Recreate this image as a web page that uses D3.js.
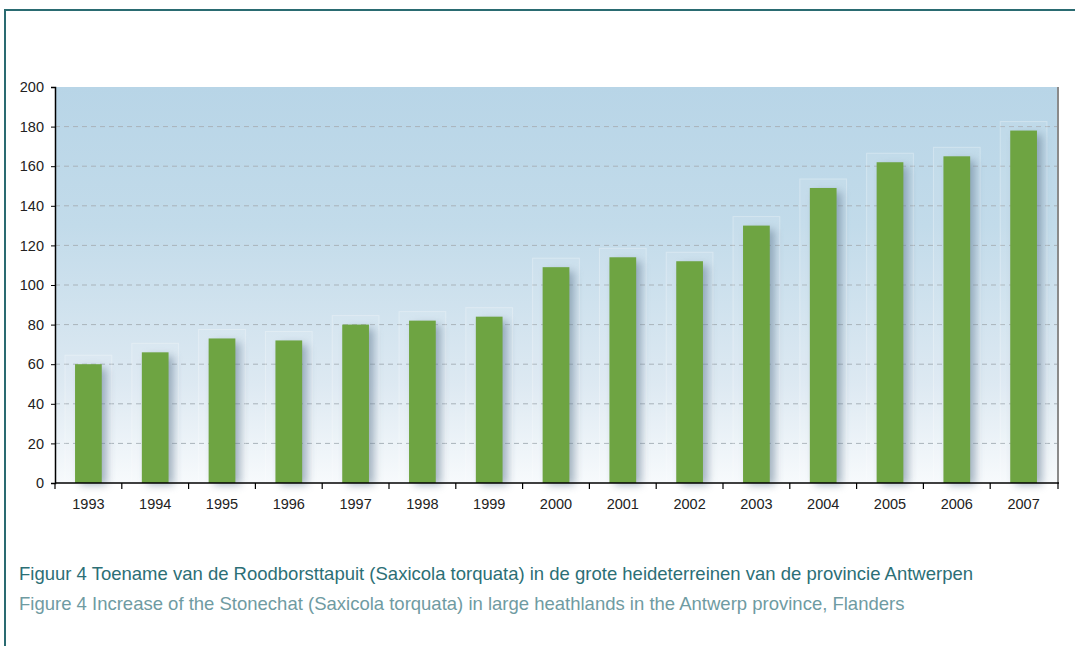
<!DOCTYPE html>
<html>
<head>
<meta charset="utf-8">
<script src="https://cdn.jsdelivr.net/npm/d3@7"></script>
<style>
body{margin:0;background:#fff;font-family:"Liberation Sans",Arial,Helvetica,sans-serif;}
svg{display:block;}
</style>
</head>
<body>
<div id="chart"></div>
<script>
var years = ["1993","1994","1995","1996","1997","1998","1999","2000","2001","2002","2003","2004","2005","2006","2007"];
var counts = [60,66,73,72,80,82,84,109,114,112,130,149,162,165,178];
var yTicks = [0,20,40,60,80,100,120,140,160,180,200];
var captionNl = "Figuur 4 Toename van de Roodborsttapuit (Saxicola torquata) in de grote heideterreinen van de provincie Antwerpen";
var captionEn = "Figure 4 Increase of the Stonechat (Saxicola torquata) in large heathlands in the Antwerp province, Flanders";

var W = 1075, H = 646;
var margin = {top:87, left:55, right:18, bottom:163};
var w = W-margin.left-margin.right;
var h = H-margin.top-margin.bottom;

var svg = d3.select("#chart").append("svg")
	.attr("width",W).attr("height",H);

// outer frame
svg.append("path")
	.attr("d","M5,"+H+" L5,10 L"+W+",10")
	.attr("fill","none")
	.attr("stroke","#2a6b71")
	.attr("stroke-width",2);

var defs = svg.append("defs");
var grad = defs.append("linearGradient").attr("id","bg")
	.attr("x1",0).attr("y1",0).attr("x2",0).attr("y2",1);
grad.append("stop").attr("offset","0%").attr("stop-color","#b8d5e7");
grad.append("stop").attr("offset","35%").attr("stop-color","#c2dbea");
grad.append("stop").attr("offset","75%").attr("stop-color","#dde9f2");
grad.append("stop").attr("offset","100%").attr("stop-color","#f7fafc");

var blur = defs.append("filter").attr("id","shadow")
	.attr("x","-50%").attr("y","-10%").attr("width","200%").attr("height","130%");
blur.append("feGaussianBlur").attr("stdDeviation",4);

var x = d3.scaleBand().domain(years).range([0,w]).paddingInner(0.6).paddingOuter(0.3);
var xb = d3.scaleBand().domain(years).range([0,w]);
var y = d3.scaleLinear().domain([0,200]).range([h,0]);

var g = svg.append("g").attr("transform","translate("+margin.left+","+margin.top+")");

g.append("rect").attr("width",w).attr("height",h).attr("fill","url(#bg)");

// grid
g.selectAll(".grid").data(yTicks.filter(function(d){return d>0 && d<200;}))
	.enter().append("line")
	.attr("x1",0).attr("x2",w)
	.attr("y1",function(d){return y(d);}).attr("y2",function(d){return y(d);})
	.attr("stroke","#a9b3ba")
	.attr("stroke-dasharray","5,4");

// faint glow boxes behind bars
g.selectAll(".glow").data(counts).enter().append("rect")
	.attr("x",function(d,i){return xb(years[i])+xb.bandwidth()*0.15;})
	.attr("width",xb.bandwidth()*0.7)
	.attr("y",function(d){return y(d)-9;})
	.attr("height",function(d){return h-y(d)+9;})
	.attr("fill","#ffffff").attr("fill-opacity",0.08)
	.attr("stroke","#ffffff").attr("stroke-opacity",0.3);

// shadows
g.selectAll(".shadow").data(counts).enter().append("rect")
	.attr("x",function(d,i){return x(years[i])+5;})
	.attr("width",x.bandwidth())
	.attr("y",function(d){return y(d)+4;})
	.attr("height",function(d){return h-y(d)-2;})
	.attr("fill","#5f7890").attr("opacity",0.55)
	.attr("filter","url(#shadow)");

// bars
g.selectAll(".bar").data(counts).enter().append("rect")
	.attr("x",function(d,i){return x(years[i]);})
	.attr("width",x.bandwidth())
	.attr("y",function(d){return y(d);})
	.attr("height",function(d){return h-y(d);})
	.attr("fill","#6ea442");

// right edge
g.append("line").attr("x1",w+1).attr("x2",w+1).attr("y1",0).attr("y2",h)
	.attr("stroke","#8a8a8a").attr("stroke-width",2);

// y axis
var yAxis = d3.axisLeft(y).tickValues(yTicks).tickSize(4).tickPadding(7);
var ya = g.append("g").call(yAxis);
ya.select(".domain").attr("stroke","#000").attr("stroke-width",1.5);
ya.selectAll("text").attr("font-size","14.5px").attr("fill","#222").attr("font-family","'Liberation Sans',Arial,sans-serif");

// x axis with ticks at band edges
var xa = g.append("g").attr("transform","translate(0,"+h+")");
xa.append("line").attr("x1",0).attr("x2",w+2).attr("stroke","#000").attr("stroke-width",1.5);
xa.selectAll(".tk").data(years.concat(["end"])).enter().append("line")
	.attr("x1",function(d,i){return i<years.length?xb(d):w+1;})
	.attr("x2",function(d,i){return i<years.length?xb(d):w+1;})
	.attr("y1",0).attr("y2",6)
	.attr("stroke","#000").attr("stroke-width",1.2);
xa.selectAll(".lbl").data(years).enter().append("text")
	.attr("x",function(d){return xb(d)+xb.bandwidth()/2;})
	.attr("y",26)
	.attr("text-anchor","middle")
	.attr("font-size","14.5px").attr("fill","#222")
	.text(function(d){return d;});

// captions
svg.append("text").attr("x",19).attr("y",580)
	.attr("font-size","18.5px").attr("fill","#2c6f76")
	.text(captionNl);
svg.append("text").attr("x",19).attr("y",610)
	.attr("font-size","18.5px").attr("fill","#6f9ba2")
	.text(captionEn);
</script>
</body>
</html>
